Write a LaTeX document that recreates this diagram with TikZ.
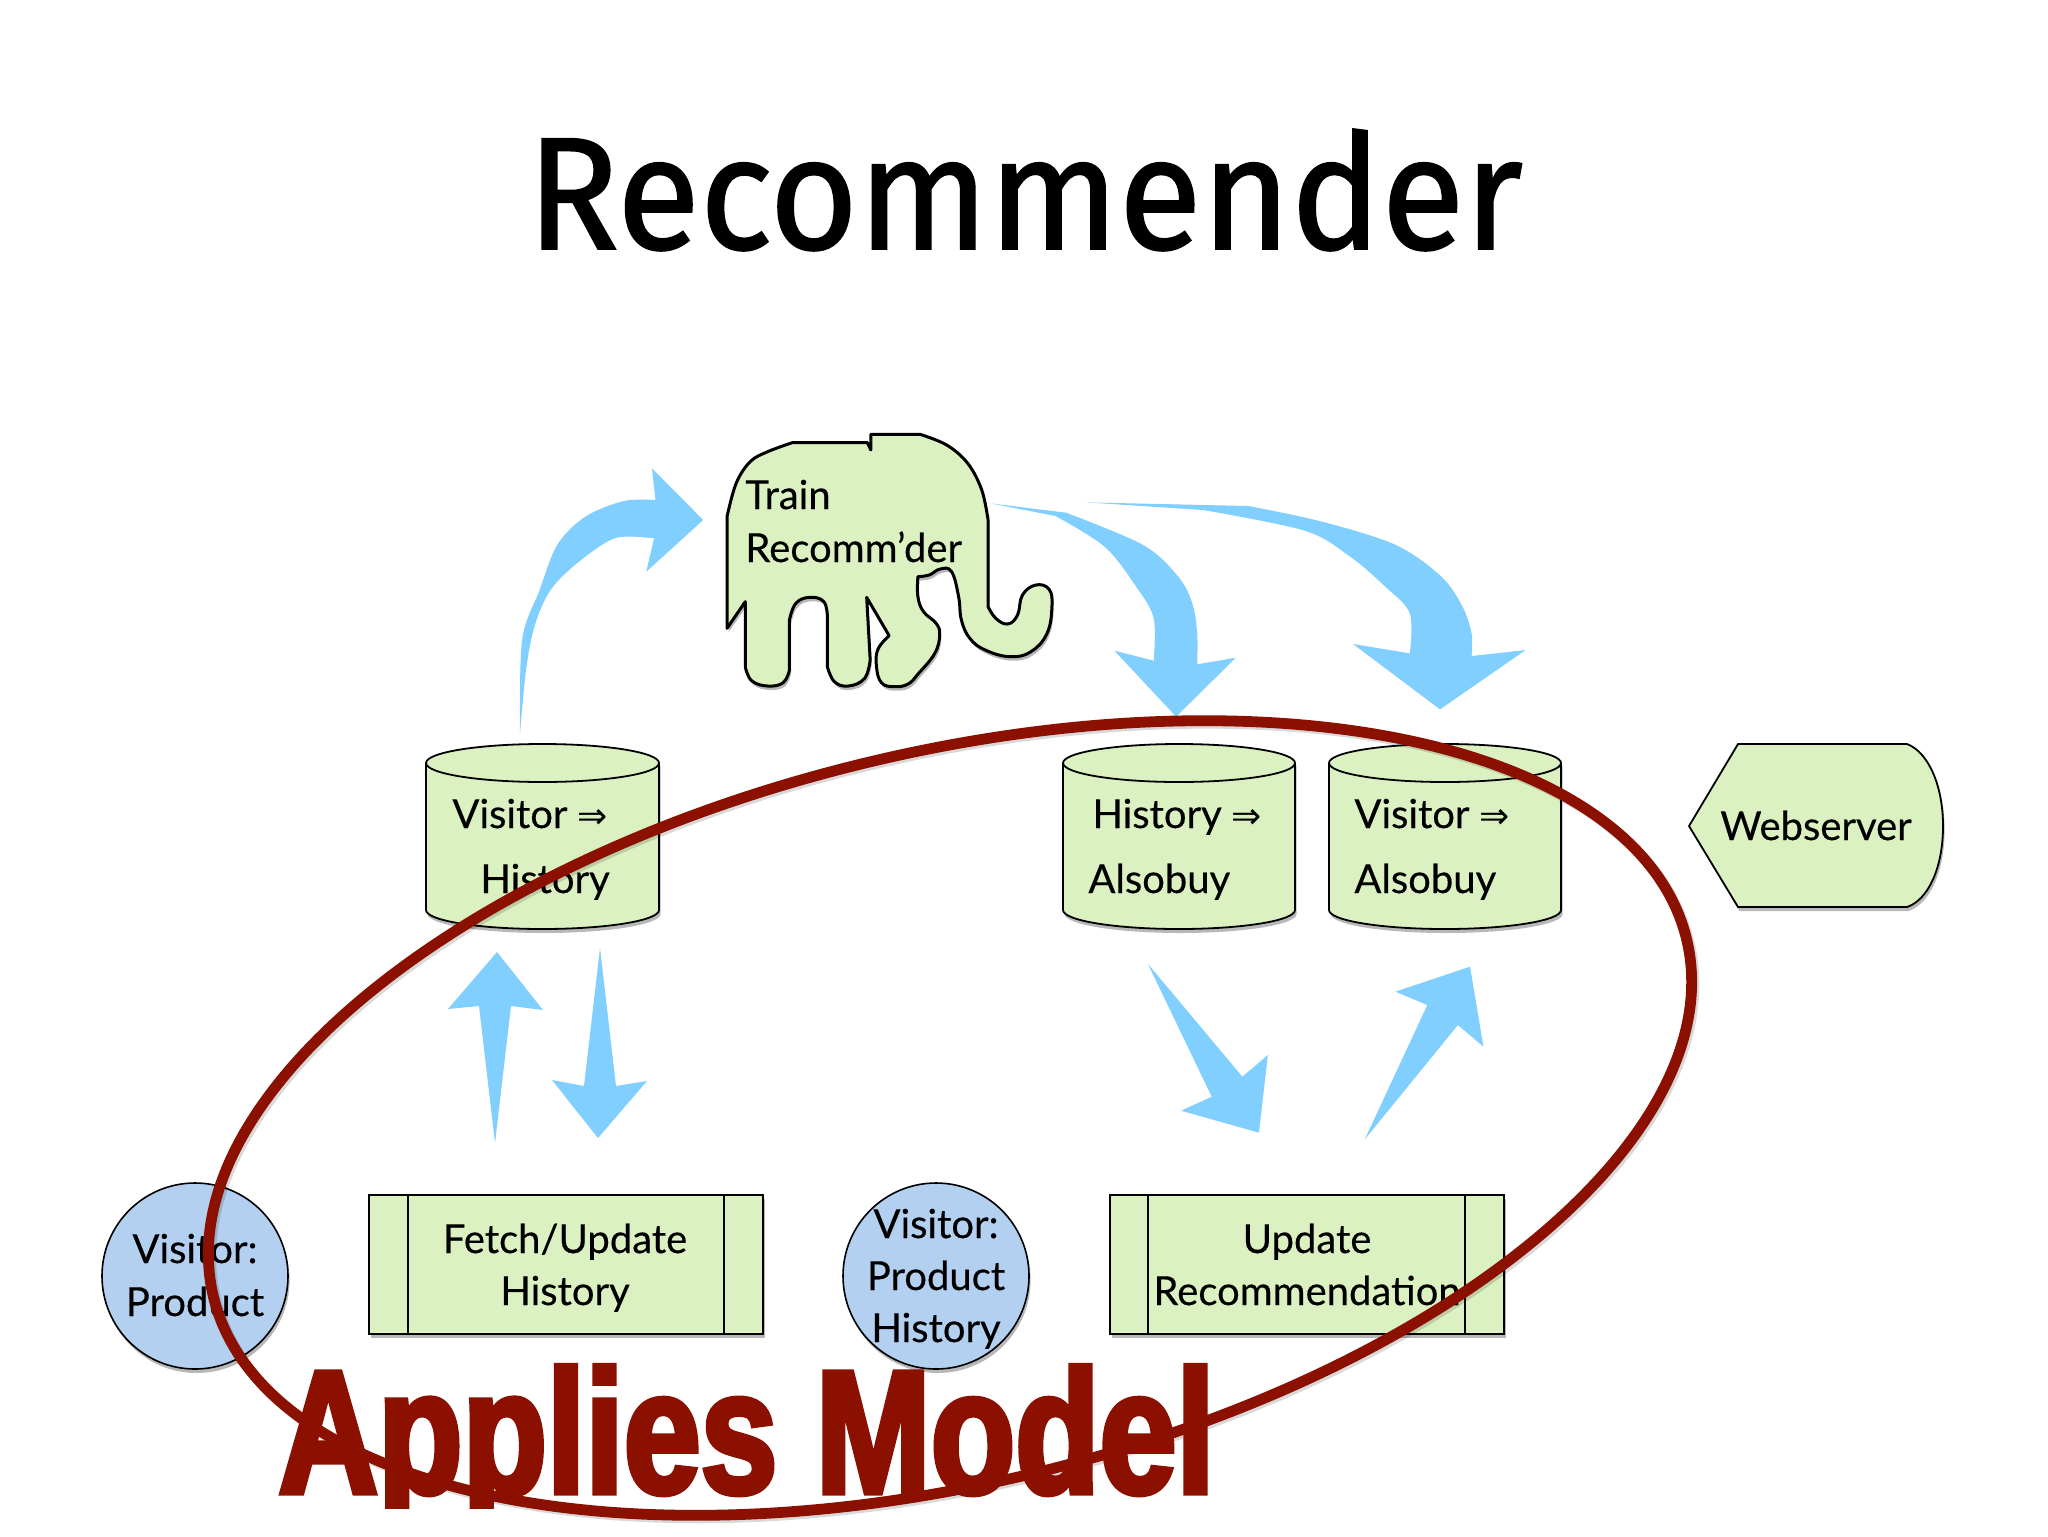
\documentclass[tikz,border=0pt]{standalone}
\usepackage{fontspec}
\setmainfont{Lato}[FakeBold=0.35]
\newfontfamily\titlefont[FakeStretch=0.95,FakeBold=1.1]{Fira Sans}
\newfontfamily\impactfont[FakeStretch=0.785,FakeBold=3]{Liberation Sans Bold}
\newfontfamily\symfont{DejaVu Sans}
\usetikzlibrary{shadows}
\definecolor{nodegreen}{RGB}{220,241,194}
\definecolor{nodeblue}{RGB}{179,208,240}
\definecolor{arrowblue}{RGB}{128,207,255}
\definecolor{ringred}{RGB}{139,16,0}
\tikzset{
  softshadow/.style={general shadow={shadow xshift=0.8pt,shadow yshift=-2pt,fill=black,opacity=.28}},
  greenshape/.style={draw=black,line width=0.9pt,fill=nodegreen,softshadow},
  blueshape/.style={draw=black,line width=0.8pt,fill=nodeblue,softshadow},
  lbl/.style={font=\fontsize{20}{26}\selectfont,inner sep=0pt,text=black,align=center},
  ring/.style={draw=ringred,line width=5.4pt},
  zoomA/.style={shift={(480,400)},x=0.35088pt,y=-0.16667pt},
  zoomC/.style={shift={(1000,700)},x=0.31888pt,y=-0.16667pt},
}
\newcommand{\cyl}[2]{% left x, right x
  \path[greenshape] (#1,763) -- (#1,910) arc[start angle=180,end angle=360,x radius={(#2-#1)/2},y radius=-19]
     -- (#2,763) arc[start angle=0,end angle=180,x radius={(#2-#1)/2},y radius=-19] -- cycle;
  \draw[black,line width=0.9pt] (#1,763) arc[start angle=180,end angle=360,x radius={(#2-#1)/2},y radius=-19];
}
\newcommand{\implies}{{\symfont\fontsize{18}{18}\selectfont ⇒}}
\begin{document}
\begin{tikzpicture}[x=0.5pt,y=-0.5pt]
\useasboundingbox (0,0) rectangle (2048,1536);
\fill[white] (0,0) rectangle (2048,1536);

% title
\node[anchor=base,inner sep=0pt] (title) at (1025,249) {\titlefont\fontsize{80}{90}\selectfont Recommender};

% elephant
\begin{scope}[zoomA]
\path[greenshape,line width=1.5pt,line join=round]
  (557,103) -- (627,103)
  -- plot[smooth,tension=0.6] coordinates {(627,103) (665,135) (695,190) (715,270) (724,360)}
  -- (724,620)
  -- plot[smooth,tension=0.7] coordinates {(724,620) (735,655) (752,672) (766,645) (773,585) (792,555) (811,568) (815,620) (808,700) (785,755) (755,770) (720,750) (698,715) (686,660) (682,590) (672,515) (656,507) (640,525) (624,530)}
  -- plot[smooth,tension=0.7] coordinates {(624,530) (624,590) (632,635) (650,670) (655,705) (648,760) (625,820) (610,852) (590,860) (572,848) (565,800) (567,748) (583,707)}
  -- (551,592) -- (556,780)
  -- plot[smooth,tension=0.7] coordinates {(556,780) (548,835) (525,858) (505,845) (495,800)}
  -- (495,650)
  -- plot[smooth,tension=0.7] coordinates {(495,650) (490,605) (470,592) (450,610) (441,660)}
  -- (441,810)
  -- plot[smooth,tension=0.7] coordinates {(441,810) (432,848) (410,858) (387,842) (378,800)}
  -- (378,605) -- (352,685) -- (352,350)
  -- plot[smooth,tension=0.6] coordinates {(352,350) (365,250) (385,185) (410,155) (445,128)}
  -- (552,128) -- (557,150) -- cycle;
\fill[arrowblue] plot[smooth,tension=0.55] coordinates {(57,1000) (60,720) (85,570) (110,435) (150,350) (205,303) (250,300)} -- (245,205) -- (318,360) -- (237,515) -- (248,415) -- plot[smooth,tension=0.55] coordinates {(248,415) (195,413) (150,470) (110,545) (90,610) (75,700) (65,820) (57,1000)} -- cycle;
\fill[arrowblue] (727,310) -- plot[smooth,tension=0.55] coordinates {(835,338) (945,435) (995,530) (1015,610) (1022,700) (1022,793)} -- (1077,773) -- (992,950) -- (904,752) -- (960,782) -- plot[smooth,tension=0.55] coordinates {(960,782) (960,655) (935,560) (890,440) (820,348)} -- cycle;
\fill[arrowblue] (863,307) -- (1095,318) -- plot[smooth,tension=0.55] coordinates {(1095,318) (1200,365) (1305,435) (1370,530) (1400,620) (1413,700) (1413,768)} -- (1490,750) -- (1368,928) -- (1244,732) -- (1325,760) -- plot[smooth,tension=0.55] coordinates {(1325,760) (1325,640) (1290,560) (1240,470) (1175,392) (1030,330)} -- cycle;
\end{scope}
\node[lbl,anchor=base west] (train) at (745,509) {Train};
\node[lbl,anchor=base west] (recomm) at (745,562) {Recomm’der};

% cylinders
\cyl{426}{659}
\cyl{1063}{1295}
\cyl{1329}{1561}
\node[lbl,anchor=base west] (vh1) at (452,828) {Visitor \implies};
\node[lbl,anchor=base west] (vh2) at (480,893) {History};
\node[lbl,anchor=base west] (ha1) at (1092,828) {History \implies};
\node[lbl,anchor=base west] (ha2) at (1088,893) {Alsobuy};
\node[lbl,anchor=base west] (va1) at (1354,828) {Visitor \implies};
\node[lbl,anchor=base west] (va2) at (1354,893) {Alsobuy};

% webserver
\path[greenshape] (1689,826) -- (1738,744) -- (1907,744)
  .. controls (1928,752) and (1943,785) .. (1943,826)
  .. controls (1943,868) and (1928,900) .. (1907,907)
  -- (1738,907) -- cycle;
\node[lbl,anchor=base] (web) at (1816,840) {Webserver};

% arrows, store <-> process
\fill[arrowblue] (495,1143) -- (511,1006) -- (543,1010) -- (497,952) -- (448,1009) -- (479,1006) -- cycle;
\fill[arrowblue] (600,948) -- (616,1086) -- (647,1081) -- (598,1138) -- (552,1080) -- (584,1086) -- cycle;
\begin{scope}[zoomC]
\fill[arrowblue] (232,792) -- (380,1130) -- (420,1065) -- (406,1298) -- (284,1232) -- (332,1190) -- cycle;
\fill[arrowblue] (572,1318) -- (718,975) -- (758,1040) -- (737,800) -- (620,875) -- (670,915) -- cycle;
\end{scope}

% process boxes
\path[greenshape] (369,1195) rectangle (763,1334);
\draw[black,line width=0.7pt] (408,1195) -- (408,1334) (724,1195) -- (724,1334);
\node[lbl,anchor=base] (fetch1) at (565,1253) {Fetch/Update};
\node[lbl,anchor=base] (fetch2) at (565,1305) {History};
\path[greenshape] (1110,1195) rectangle (1504,1334);
\draw[black,line width=0.7pt] (1148,1195) -- (1148,1334) (1465,1195) -- (1465,1334);
\node[lbl,anchor=base] (upd1) at (1307,1253) {Update};
\node[lbl,anchor=base] (upd2) at (1307,1305) {Recommendation};

% data circles
\path[blueshape] (195,1276) circle[radius=93];
\node[lbl,anchor=base] (vp1) at (195,1263) {Visitor:};
\node[lbl,anchor=base] (vp2) at (195,1316) {Product};
\path[blueshape] (936,1276) circle[radius=93];
\node[lbl,anchor=base] (pp1) at (936,1238) {Visitor:};
\node[lbl,anchor=base] (pp2) at (936,1290) {Product};
\node[lbl,anchor=base] (pp3) at (936,1342) {History};

% ring
\draw[black,opacity=.15,line width=5.4pt,rotate around={13.65:(950,1118)},xshift=0.8pt,yshift=-1.5pt] (950,1118) ellipse[x radius=758,y radius=365];
\draw[ring,rotate around={13.65:(950,1118)}] (950,1118) ellipse[x radius=758,y radius=365];

% caption, its descenders cut short as in a display face
\begin{scope}
\clip (200,1300) rectangle (1300,1508);
\node[anchor=base west,inner sep=0pt,text=ringred] (model) at (278,1493) {\impactfont\fontsize{88}{90}\selectfont Applies Model};
\end{scope}
\end{tikzpicture}
\end{document}
